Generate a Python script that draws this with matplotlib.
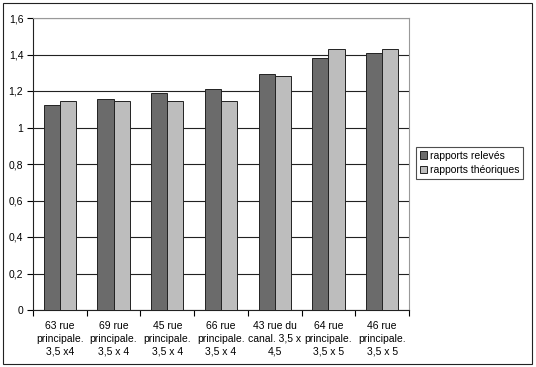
import numpy as np
import matplotlib
matplotlib.use("Agg")
from matplotlib import pyplot as plt
from matplotlib.patches import Rectangle

plt.rcParams["font.family"] = ["Liberation Sans", "DejaVu Sans"]

categories = ["63 rue\nprincipale.\n3,5 x4", "69 rue\nprincipale.\n3,5 x 4",
              "45 rue\nprincipale.\n3,5 x 4", "66 rue\nprincipale.\n3,5 x 4",
              "43 rue du\ncanal. 3,5 x\n4,5", "64 rue\nprincipale.\n3,5 x 5",
              "46 rue\nprincipale.\n3,5 x 5"]
releves = [1.123, 1.154, 1.187, 1.211, 1.291, 1.381, 1.406]
theoriques = [1.143, 1.143, 1.143, 1.143, 1.282, 1.428, 1.428]
yticks = [0, 0.2, 0.4, 0.6, 0.8, 1, 1.2, 1.4, 1.6]
ytick_labels = ["0", "0,2", "0,4", "0,6", "0,8", "1", "1,2", "1,4", "1,6"]

W, H = 536, 367
fig = plt.figure(figsize=(W / 100, H / 100), dpi=100)
ax = fig.add_axes([33 / W, 1 - 310 / H, (409 - 33) / W, (310 - 18) / H])

x = np.arange(len(categories))
bw = 0.30
ax.bar(x - bw / 2, releves, width=bw, color="#6b6b6b", edgecolor="#222222",
       linewidth=0.7, label="rapports relevés", zorder=3)
ax.bar(x + bw / 2, theoriques, width=bw, color="#bdbdbd", edgecolor="#222222",
       linewidth=0.7, label="rapports théoriques", zorder=3)

ax.set_xlim(-0.5, len(categories) - 0.5)
ax.set_ylim(0, 1.6)
ax.set_yticks(yticks)
ax.set_yticklabels(ytick_labels, fontsize=7.5)
ax.yaxis.grid(True, color="#222222", linewidth=0.8, zorder=0)

ax.set_xticks(np.arange(len(categories) + 1) - 0.5)
ax.set_xticklabels([])
ax.set_xticks(x, minor=True)
ax.set_xticklabels(categories, minor=True, fontsize=7.5, linespacing=1.35)
ax.tick_params(axis="x", which="minor", length=0, pad=8)
ax.tick_params(axis="x", which="major", length=4, direction="out", width=0.8)
ax.tick_params(axis="y", length=4, direction="out", width=0.8, pad=3)

for s in ["top", "right"]:
    ax.spines[s].set_color("#999999")
for s in ["left", "bottom"]:
    ax.spines[s].set_color("#222222")

leg = fig.legend(loc="upper left", bbox_to_anchor=(416 / W, 1 - 147 / H),
                 fontsize=7.5, frameon=True, fancybox=False, edgecolor="#222222",
                 handlelength=0.7, handleheight=0.7, handletextpad=0.3,
                 borderpad=0.35, labelspacing=0.45, borderaxespad=0)
leg.get_frame().set_linewidth(0.8)

fig.patches.append(Rectangle((3 / W, 3 / H), 529 / W, 361 / H,
                             transform=fig.transFigure, fill=False,
                             edgecolor="#222222", linewidth=0.8))

fig.savefig("out.png", dpi=100)
